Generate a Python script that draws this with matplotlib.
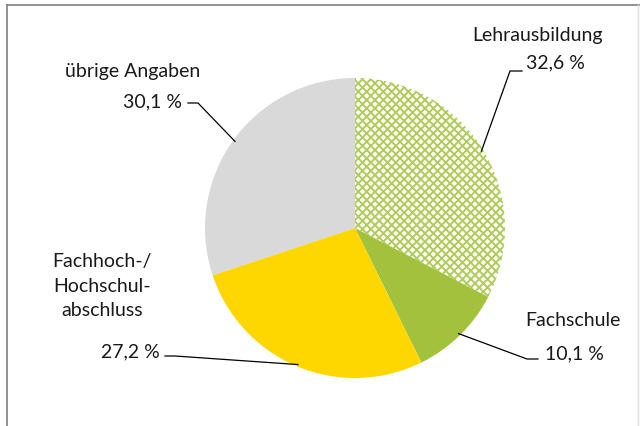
import numpy as np
import matplotlib.pyplot as plt
from matplotlib.lines import Line2D

plt.rcParams['font.family'] = ['Lato', 'DejaVu Sans']
plt.rcParams['hatch.linewidth'] = 1.4

categories = ["Lehrausbildung", "Fachschule", "Fachhoch-/\nHochschul-\nabschluss", "übrige Angaben"]
shares = [32.6, 10.1, 27.2, 30.1]
value_labels = ["32,6 %", "10,1 %", "27,2 %", "30,1 %"]

colors = ["white", "#a2c13c", "#ffd700", "#d9d9d9"]

W, H = 640, 426
fig = plt.figure(figsize=(W / 100, H / 100), dpi=100)
ax = fig.add_axes([0, 0, 1, 1])

cx, cy, r = 355, 198, 150
wedges, _ = ax.pie(shares, colors=colors, startangle=90, counterclock=False,
                   center=(cx, cy), radius=r, frame=True,
                   wedgeprops=dict(linewidth=0))
# patterned slice for the apprenticeship share
wedges[0].set_hatch('xxxx')
wedges[0].set_edgecolor('#b0cc5a')
wedges[0].set_linewidth(0)
ax.set_xlim(0, W)
ax.set_ylim(0, H)
ax.set_aspect('equal')
ax.axis('off')

# leader line elbows and text anchors (pixel coords, y up)
elbows = [[(510, 355), (522, 355)],
          [(527, 67), (538, 67)],
          [(175, 70), (165, 70)],
          [(198, 323), (188, 323)]]
name_pos = [(537, 391), (573, 105), (102, 140), (133, 354)]
val_pos = [(526, 363, 'left'), (545, 72, 'left'), (160, 74, 'right'), (182, 324, 'right')]

acc = 0
for i, s in enumerate(shares):
    mid = np.deg2rad(90 - (acc + s / 2) * 3.6)
    acc += s
    x0, y0 = cx + 148 * np.cos(mid), cy + 148 * np.sin(mid)
    xs = [x0] + [p[0] for p in elbows[i]]
    ys = [y0] + [p[1] for p in elbows[i]]
    ax.plot(xs, ys, color='black', lw=0.9)
    nx, ny = name_pos[i]
    ax.text(nx, ny, categories[i], ha='center', va='center', fontsize=14,
            color='#1a1a1a', linespacing=1.55)
    vx, vy, vha = val_pos[i]
    ax.text(vx, vy, value_labels[i], ha=vha, va='center', fontsize=14, color='#1a1a1a')

# chart frame
fig.add_artist(Line2D([7 / W, 1], [1 - 5 / H, 1 - 5 / H], color='#7f7f7f', lw=1.2))
fig.add_artist(Line2D([7 / W, 7 / W], [0, 1 - 5 / H], color='#7f7f7f', lw=1.2))
fig.add_artist(Line2D([638 / W, 638 / W], [0, 1 - 5 / H], color='#e0e0e0', lw=1))

fig.savefig('out.png', dpi=100)
